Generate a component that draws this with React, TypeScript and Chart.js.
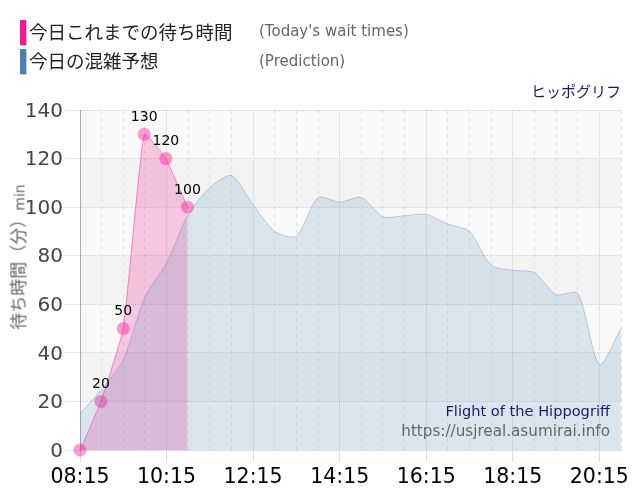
import { useEffect, useRef } from "react"
import Chart from "chart.js/auto"

const predictionTimes = [
  "08:15", "08:45", "09:15", "09:45", "10:15", "10:45", "11:15", "11:45", "12:15",
  "12:45", "13:15", "13:45", "14:15", "14:45", "15:15", "15:45", "16:15", "16:45",
  "17:15", "17:45", "18:15", "18:45", "19:15", "19:45", "20:15", "20:45",
]
const predictionValues = [
  15, 25, 37, 63, 77, 97, 108, 113, 101, 90, 88, 104, 102, 104, 96, 96.5, 97, 93,
  90, 76, 74, 73, 64, 64.5, 35, 50,
]
const waitTimes = ["08:15", "08:44", "09:15", "09:44", "10:14", "10:44"]
const waitValues = [0, 20, 50, 130, 120, 100]

const FONT = "'DejaVu Sans', 'Noto Sans CJK JP', sans-serif"

const toMinutes = (t: string) => {
  const [h, m] = t.split(":").map(Number)
  return h * 60 + m
}
const toLabel = (v: number) => {
  const h = Math.floor(v / 60)
  const m = v % 60
  return String(h).padStart(2, "0") + ":" + String(m).padStart(2, "0")
}
const isMajor = (v: number) => (v - toMinutes(predictionTimes[0])) % 120 === 0

// alternating grey bands behind the plot
const bandPlugin = {
  id: "bands",
  beforeDraw(chart: any) {
    const { ctx, chartArea, scales } = chart
    const ticks = scales.y.ticks
    ctx.save()
    for (let i = 0; i < ticks.length - 1; i++) {
      const top = scales.y.getPixelForValue(ticks[i + 1].value)
      const bottom = scales.y.getPixelForValue(ticks[i].value)
      ctx.fillStyle = (ticks.length - i) % 2 === 0 ? "#f9f9f9" : "#f3f3f3"
      ctx.fillRect(chartArea.left, top, chartArea.right - chartArea.left, bottom - top)
    }
    ctx.restore()
  },
}

// value labels over the wait time points
const valueLabelPlugin = {
  id: "valueLabels",
  afterDatasetsDraw(chart: any) {
    const { ctx } = chart
    const meta = chart.getDatasetMeta(0)
    ctx.save()
    ctx.font = "14px " + FONT
    ctx.fillStyle = "#000"
    ctx.textAlign = "center"
    ctx.textBaseline = "middle"
    meta.data.forEach((pt: any, i: number) => {
      if (waitValues[i] > 0) ctx.fillText(String(waitValues[i]), pt.x, pt.y - 17)
    })
    ctx.restore()
  },
}

export default function App() {
  const chartRef = useRef<HTMLCanvasElement>(null)

  useEffect(() => {
    if (!chartRef.current) return
    const chart = new Chart(chartRef.current, {
      type: "line",
      data: {
        datasets: [
          {
            label: "今日これまでの待ち時間",
            data: waitTimes.map((t, i) => ({ x: toMinutes(t), y: waitValues[i] })),
            borderColor: "rgba(255,20,147,0.45)",
            backgroundColor: "rgba(240,20,140,0.22)",
            borderWidth: 1,
            fill: "origin",
            clip: false,
            tension: 0.12,
            pointRadius: 6.5,
            pointBorderWidth: 0,
            pointBackgroundColor: "rgba(255,20,147,0.42)",
            order: 2,
          },
          {
            label: "今日の混雑予想",
            data: predictionTimes.map((t, i) => ({ x: toMinutes(t), y: predictionValues[i] })),
            borderColor: "rgba(70,130,180,0.35)",
            backgroundColor: "rgba(70,130,180,0.17)",
            borderWidth: 1,
            fill: "origin",
            tension: 0.25,
            pointRadius: 0,
            order: 1,
          },
        ],
      },
      options: {
        animation: false,
        responsive: false,
        layout: { padding: { top: 110, right: 19, left: 0, bottom: 0 } },
        plugins: { legend: { display: false }, tooltip: { enabled: false } },
        scales: {
          x: {
            type: "linear",
            min: toMinutes(predictionTimes[0]),
            max: toMinutes(predictionTimes[predictionTimes.length - 1]),
            grid: {
              color: (c: any) => (isMajor(c.tick.value) ? "#d0d0d0" : "#e2e2e2"),
              tickColor: (c: any) => (isMajor(c.tick.value) ? "#dddddd" : "transparent"),
              tickLength: 12,
            },
            border: {
              color: "#dddddd",
              dash: (c: any) => (isMajor(c.tick.value) ? [1, 1] : [4, 4]),
            },
            ticks: {
              stepSize: 30,
              autoSkip: false,
              maxRotation: 0,
              color: "#000",
              font: { family: FONT, size: 20.5 },
              padding: 3,
              callback: (v: any) => (isMajor(v) ? toLabel(v) : ""),
            },
            afterFit: (scale: any) => {
              scale.height = 50
            },
          },
          y: {
            min: 0,
            max: 140,
            grid: { color: "#d2d2d2", tickColor: "#e6e6e6", tickLength: 15 },
            border: { color: "#aaaaaa", dash: [1, 1] },
            ticks: {
              stepSize: 20,
              color: "#444",
              font: { family: FONT, size: 20 },
              padding: 2,
              labelOffset: 1.5,
            },
            afterFit: (scale: any) => {
              scale.width = 80
            },
          },
        },
      },
      plugins: [bandPlugin, valueLabelPlugin],
    } as any)
    return () => chart.destroy()
  }, [])

  const abs = (left: number, top: number, extra: any = {}) => ({
    position: "absolute" as const,
    left,
    top,
    whiteSpace: "nowrap" as const,
    fontFamily: FONT,
    ...extra,
  })
  const right = (r: number, top: number, size: number, color: string) => ({
    position: "absolute" as const,
    right: 640 - r,
    top,
    fontSize: size,
    color,
    lineHeight: "20px",
    whiteSpace: "nowrap" as const,
    fontFamily: FONT,
  })

  return (
    <div style={{ position: "absolute", left: 0, top: 0, width: 640, height: 500, overflow: "hidden" }}>
      <canvas ref={chartRef} width={640} height={500} style={{ display: "block" }}></canvas>
      <div style={abs(20, 20, { width: 6, height: 25, background: "#ff1493", boxShadow: "1px 1px 0 #ccc" })}></div>
      <div style={abs(20, 49, { width: 6, height: 25, background: "#4682b4", boxShadow: "1px 1px 0 #ccc" })}></div>
      <div style={abs(29, 20, { fontSize: 18.5, lineHeight: "25px", color: "#222" })}>今日これまでの待ち時間</div>
      <div style={abs(29, 49, { fontSize: 18.5, lineHeight: "25px", color: "#222" })}>今日の混雑予想</div>
      <div style={abs(259, 20, { fontSize: 15, lineHeight: "22px", color: "#666" })}>(Today's wait times)</div>
      <div style={abs(259, 50, { fontSize: 15, lineHeight: "22px", color: "#666" })}>(Prediction)</div>
      <div style={right(621, 82, 15, "#191970")}>ヒッポグリフ</div>
      <div style={right(610, 401, 14.6, "#191970")}>Flight of the Hippogriff</div>
      <div style={right(610, 421, 15.2, "#666")}>https://usjreal.asumirai.info</div>
      <div
        style={abs(17, 257, {
          transform: "translate(-50%, -50%) rotate(-90deg)",
          fontSize: 17,
          color: "#666",
        })}
      >
        待ち時間（分）<span style={{ fontSize: 14 }}>min</span>
      </div>
    </div>
  )
}
